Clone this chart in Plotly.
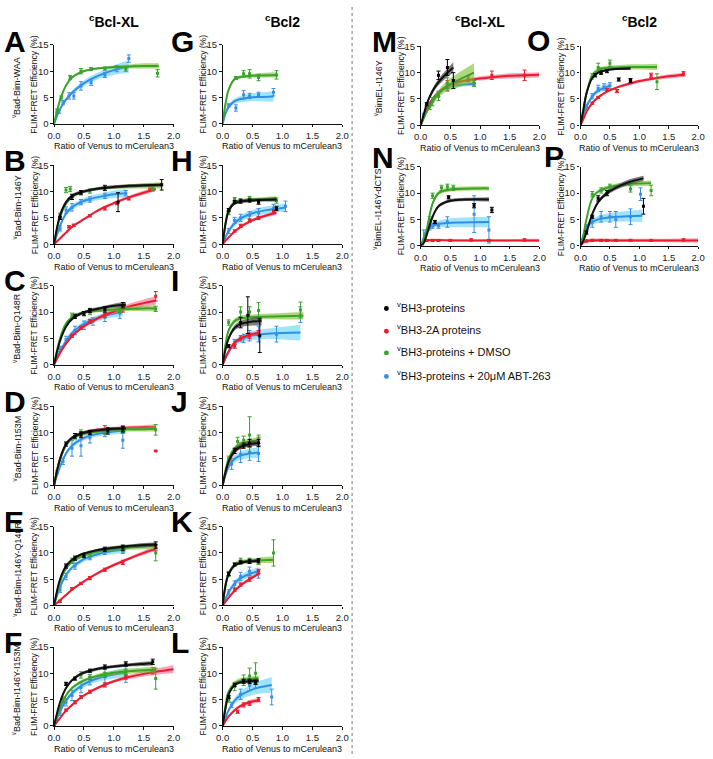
import plotly.graph_objects as go

W, H = 713, 759

# ---------------- data ----------------
# each series: fx/fy = fitted curve, fb = half-width of the confidence band,
# px/py/pe = measured points with error bars
A_green = dict(fx=[0,0.1,0.2,0.3,0.45,0.6,0.8,1.0,1.25,1.5,1.75], fy=[0,4.5,7.3,8.8,9.8,10.3,10.6,10.8,10.9,11.0,11.0], fb=[0,.2,.2,.2,.2,.2,.2,.3,.4,.5,.5],
               px=[0.05,0.12,0.27,0.45,0.62,0.85,1.2,1.73], py=[2.5,5.0,8.8,10.0,10.4,10.5,10.4,9.6], pe=[.3,.3,.4,.5,.3,.3,.4,.7])
A_blue = dict(fx=[0,0.1,0.2,0.3,0.45,0.6,0.8,1.0,1.25], fy=[0,2.8,4.6,5.9,7.3,8.4,9.4,10.2,10.9], fb=[0,.2,.3,.4,.5,.6,.7,.9,1.2],
              px=[0.08,0.15,0.25,0.33,0.45,0.62,0.85,1.05,1.25], py=[2.3,4.0,5.3,5.3,7.2,7.8,9.3,10.5,12.4], pe=[.3,.4,.6,.6,.8,.5,.5,.6,.7])

B_black = dict(fx=[0,0.1,0.2,0.3,0.45,0.6,0.8,1.0,1.25,1.5,1.8], fy=[0,5.5,8.0,9.2,9.9,10.3,10.7,10.9,11.1,11.2,11.3], fb=[0,.3,.3,.3,.3,.3,.3,.3,.3,.3,.3],
               px=[0.1,0.3,0.45,0.85,1.07,1.8], py=[5.0,9.0,9.8,10.7,8.0,11.3], pe=[.3,.5,.4,.5,1.8,1.0])
B_green = dict(fx=[0,0.1,0.2,0.3,0.45,0.6,0.8,1.0,1.25,1.5,1.8], fy=[0,5.2,7.7,9.0,9.8,10.3,10.6,10.8,11.0,11.1,11.2], fb=[0,.2,.2,.2,.2,.2,.3,.3,.4,.5,.6],
               px=[0.1,0.2,0.27,0.6,1.65], py=[5.5,10.3,10.5,10.1,10.5], pe=[.4,.5,.5,.4,.4])
B_blue = dict(fx=[0,0.1,0.2,0.3,0.45,0.6,0.8,1.0,1.2], fy=[0,3.5,5.8,7.0,8.0,8.6,9.1,9.5,9.7], fb=[0,.3,.4,.5,.5,.6,.6,.7,.8],
              px=[0.1,0.2,0.3,0.45,0.6,0.85,1.2], py=[3.0,6.5,7.0,8.0,8.5,9.2,9.7], pe=[.5,.6,.7,.5,.5,.5,.5])
B_red = dict(fx=[0,0.1,0.2,0.3,0.45,0.6,0.8,1.0,1.25,1.5,1.7], fy=[0,1.1,2.2,3.3,4.4,5.5,6.8,7.8,8.9,9.8,10.5], fb=[0,.2,.2,.2,.2,.2,.3,.3,.3,.4,.4],
             px=[0.25,0.33,0.6,0.85,1.05,1.25,1.6], py=[3.3,3.6,5.4,6.8,7.8,8.7,10.5], pe=[.2,.2,.2,.3,.3,.3,.4])

C_black = dict(fx=[0,0.1,0.2,0.3,0.45,0.6,0.8,1.0,1.2], fy=[0,4.5,7.2,8.7,9.7,10.3,10.8,11.2,11.4], fb=[0,.2,.2,.3,.3,.3,.3,.4,.5],
               px=[0.35,0.5,0.6,0.85,1.15], py=[9.2,9.7,10.3,10.5,11.3], pe=[.4,.4,.4,.5,.5])
C_red = dict(fx=[0,0.1,0.2,0.3,0.45,0.6,0.8,1.0,1.25,1.5,1.7], fy=[0,2.2,4.0,5.4,6.9,8.0,9.2,10.1,11.0,11.7,12.2], fb=[0,.2,.2,.3,.3,.3,.4,.5,.6,.7,.8],
             px=[0.3,0.45,0.6,0.85,1.15,1.7], py=[5.5,7.0,8.2,9.5,10.5,13.0], pe=[.3,.3,.4,.5,.5,.9])
C_green = dict(fx=[0,0.1,0.2,0.3,0.45,0.6,0.8,1.0,1.25,1.5,1.7], fy=[0,5.0,7.8,9.0,9.8,10.1,10.3,10.5,10.6,10.7,10.7], fb=[0,.2,.2,.3,.3,.3,.3,.4,.4,.5,.6],
               px=[0.3,0.6,1.1,1.7], py=[9.3,10.0,10.3,10.6], pe=[.5,.5,.4,.5])
C_blue = dict(fx=[0,0.1,0.2,0.3,0.45,0.6,0.8,1.0,1.15], fy=[0,2.5,4.5,6.0,7.4,8.3,9.1,9.7,10.0], fb=[0,.3,.4,.5,.5,.6,.6,.7,.8],
              px=[0.1,0.2,0.35,0.5,0.65,0.85,1.1], py=[3.0,4.8,6.5,7.5,8.2,9.0,9.8], pe=[.5,.6,.8,.8,.7,.8,1.0])

D_black = dict(fx=[0,0.1,0.2,0.3,0.45,0.6,0.8,1.0,1.2], fy=[0,5.0,7.8,9.0,9.8,10.2,10.5,10.7,10.8], fb=[0,.3,.3,.3,.3,.3,.3,.3,.3],
               px=[0.2,0.35,0.45,0.6,0.9,1.15], py=[7.8,9.3,9.6,10.0,10.3,10.6], pe=[.4,.5,.5,.4,.6,.5])
D_red = dict(fx=[0,0.1,0.2,0.3,0.45,0.6,0.8,1.0,1.25,1.5,1.7], fy=[0,5.0,7.6,8.9,9.8,10.3,10.6,10.8,10.9,11.0,11.0], fb=[0,.2,.2,.3,.3,.3,.3,.3,.4,.4,.5],
             px=[0.45,0.85,1.15,1.7], py=[9.5,10.5,10.8,6.5], pe=[.5,.8,.5,0])
D_green = dict(fx=[0,0.1,0.2,0.3,0.45,0.6,0.8,1.0,1.25,1.5,1.7], fy=[0,4.8,7.6,8.8,9.6,10.0,10.3,10.5,10.6,10.6,10.7], fb=[0,.2,.2,.3,.3,.3,.3,.3,.4,.4,.5],
               px=[0.45,0.85,1.15,1.7], py=[10.0,10.2,10.3,10.5], pe=[.5,.5,.5,1.0])
D_blue = dict(fx=[0,0.1,0.2,0.3,0.45,0.6,0.8,1.0,1.2], fy=[0,3.5,6.0,7.5,8.7,9.4,9.9,10.2,10.4], fb=[0,.3,.4,.5,.5,.5,.5,.6,.6],
              px=[0.05,0.15,0.3,0.45,0.6,0.85,1.15], py=[2.5,4.5,7.0,7.5,9.0,10.0,8.5], pe=[.3,.6,1.5,2.0,1.0,.8,1.5])

E_black = dict(fx=[0,0.1,0.2,0.3,0.45,0.6,0.8,1.0,1.25,1.5,1.7], fy=[0,5.0,7.5,8.7,9.7,10.2,10.7,11.0,11.3,11.5,11.6], fb=[0,.2,.2,.2,.2,.2,.3,.3,.3,.4,.4],
               px=[0.2,0.35,0.5,0.85,1.15,1.7], py=[7.5,9.0,9.5,10.7,11.0,11.5], pe=[.4,.4,.4,.4,.5,.6])
E_green = dict(fx=[0,0.1,0.2,0.3,0.45,0.6,0.8,1.0,1.25,1.5,1.7], fy=[0,4.5,7.0,8.3,9.3,9.9,10.4,10.7,11.0,11.2,11.3], fb=[0,.2,.2,.3,.3,.3,.3,.3,.4,.5,.6],
               px=[0.3,0.6,1.15,1.7], py=[8.5,9.8,10.7,10.0], pe=[.5,.5,.5,1.5])
E_blue = dict(fx=[0,0.1,0.2,0.3,0.45,0.6,0.8,1.0,1.2], fy=[0,3.5,5.8,7.2,8.5,9.3,10.0,10.4,10.7], fb=[0,.3,.4,.4,.5,.5,.5,.6,.7],
              px=[0.1,0.2,0.35,0.6,0.85,1.15], py=[3.0,5.5,7.5,9.2,10.2,10.5], pe=[.5,.6,.6,.5,.5,.6])
E_red = dict(fx=[0,0.1,0.2,0.3,0.45,0.6,0.8,1.0,1.25,1.5,1.7], fy=[0,1.0,2.0,3.0,4.2,5.3,6.6,7.7,8.9,10.0,10.8], fb=[0,.1,.2,.2,.2,.2,.3,.3,.3,.4,.4],
             px=[0.1,0.3,0.45,0.6,0.85,1.15,1.7], py=[0.8,3.2,4.2,5.2,6.8,8.2,11.0], pe=[.2,.2,.2,.3,.3,.4,.6])

F_black = dict(fx=[0,0.1,0.2,0.3,0.45,0.6,0.8,1.0,1.25,1.5,1.65], fy=[0,4.5,7.2,8.7,9.9,10.5,11.0,11.3,11.6,11.8,11.9], fb=[0,.2,.2,.2,.3,.3,.3,.3,.3,.4,.4],
               px=[0.2,0.35,0.6,0.85,1.2,1.65], py=[8.0,9.0,10.5,11.2,11.8,12.2], pe=[.3,.3,.3,.4,.4,.5])
F_green = dict(fx=[0,0.1,0.2,0.3,0.45,0.6,0.8,1.0,1.25,1.5,1.7], fy=[0,3.5,5.8,7.2,8.4,9.1,9.7,10.1,10.4,10.6,10.7], fb=[0,.2,.3,.3,.3,.3,.4,.4,.5,.5,.6],
               px=[0.15,0.45,0.6,0.85,1.2,1.7], py=[5.0,9.7,9.3,9.7,10.3,9.0], pe=[.5,.6,.5,.5,.5,2.0])
F_blue = dict(fx=[0,0.1,0.2,0.3,0.45,0.6,0.8,1.0,1.2], fy=[0,2.8,4.8,6.2,7.6,8.5,9.3,9.8,10.1], fb=[0,.3,.4,.5,.6,.6,.7,.8,.9],
              px=[0.1,0.2,0.3,0.45,0.6,0.85,1.2], py=[2.5,4.5,5.8,7.3,8.6,9.5,9.8], pe=[.5,.7,1.0,1.0,.8,1.5,1.5])
F_red = dict(fx=[0,0.1,0.2,0.3,0.45,0.6,0.8,1.0,1.25,1.5,1.75,2.0], fy=[0,1.5,2.9,4.0,5.4,6.5,7.6,8.5,9.3,9.9,10.4,10.8], fb=[0,.2,.2,.2,.2,.2,.3,.3,.4,.5,.6,.8],
             px=[0.2,0.35,0.45,0.6,0.85,1.2,1.65], py=[3.0,4.5,5.5,6.5,7.8,9.3,10.5], pe=[.2,.3,.3,.3,.4,.4,.6])

G_green = dict(fx=[0,0.05,0.1,0.2,0.3,0.45,0.6,0.9], fy=[0,4.0,6.5,8.5,8.9,9.1,9.2,9.3], fb=[0,.3,.3,.3,.3,.3,.4,.5],
               px=[0.22,0.35,0.45,0.6,0.9], py=[8.7,9.5,9.5,8.8,9.3], pe=[.3,.6,.8,.6,.8])
G_blue = dict(fx=[0,0.05,0.1,0.2,0.3,0.45,0.6,0.85], fy=[0,2.0,3.2,4.3,4.7,5.0,5.1,5.2], fb=[0,.3,.4,.5,.6,.7,.8,1.0],
              px=[0.1,0.22,0.35,0.45,0.6,0.85], py=[3.5,3.0,5.5,5.3,5.5,6.0], pe=[.3,.6,.8,.5,.5,.7])

H_black = dict(fx=[0,0.05,0.1,0.2,0.3,0.45,0.6,0.9], fy=[0,4.0,6.3,7.8,8.1,8.3,8.4,8.5], fb=[0,.3,.3,.3,.3,.3,.3,.4],
               px=[0.1,0.2,0.3,0.45,0.6,0.9], py=[6.5,8.0,8.2,8.3,8.0,6.8], pe=[.3,.3,.4,.3,.4,.4])
H_green = dict(fx=[0,0.05,0.1,0.2,0.3,0.45,0.6,0.9], fy=[0,4.2,6.5,8.0,8.3,8.5,8.6,8.7], fb=[0,.3,.3,.3,.3,.3,.3,.4],
               px=[0.1,0.2,0.45,0.9], py=[6.0,8.5,8.7,8.3], pe=[.4,.4,.4,.5])
H_blue = dict(fx=[0,0.1,0.2,0.3,0.45,0.6,0.8,1.05], fy=[0,2.5,4.0,4.9,5.7,6.2,6.6,7.0], fb=[0,.4,.5,.6,.6,.7,.7,.8],
              px=[0.1,0.2,0.3,0.45,0.6,0.85,1.05], py=[2.5,4.5,5.0,5.5,6.0,6.8,7.2], pe=[.5,.6,.7,.7,.8,.8,1.0])
H_red = dict(fx=[0,0.1,0.2,0.3,0.45,0.6,0.8,0.9], fy=[0,1.3,2.4,3.3,4.3,5.0,5.7,6.0], fb=[0,.2,.2,.3,.3,.3,.4,.4],
             px=[0.2,0.3,0.45,0.6,0.85], py=[2.5,3.5,4.5,5.0,6.2], pe=[.2,.3,.3,.3,.4])

I_green = dict(fx=[0,0.05,0.1,0.2,0.3,0.45,0.6,1.0,1.35], fy=[0,4.0,6.5,8.3,8.8,9.0,9.1,9.2,9.3], fb=[0,.4,.4,.5,.5,.5,.5,.6,.7],
               px=[0.1,0.3,0.45,0.6,1.3], py=[8.0,10.0,10.0,10.3,10.4], pe=[.5,1.0,1.0,1.5,1.5])
I_black = dict(fx=[0,0.05,0.1,0.2,0.3,0.45,0.65], fy=[0,3.0,5.0,7.0,7.7,8.1,8.3], fb=[0,.3,.4,.5,.6,.7,.8],
               px=[0.1,0.3,0.42,0.62], py=[3.5,8.0,9.4,5.5], pe=[.3,1.0,3.5,3.2])
I_blue = dict(fx=[0,0.1,0.2,0.3,0.45,0.6,0.8,1.3], fy=[0,2.5,4.0,4.8,5.4,5.7,5.9,6.1], fb=[0,.4,.6,.7,.8,.9,1.0,1.5],
              px=[0.2,0.35,0.45,0.6,0.9,1.3], py=[4.3,5.0,5.5,5.8,5.8,9.5], pe=[.5,.8,1.0,1.5,1.5,1.5])
I_red = dict(fx=[0,0.1,0.2,0.3,0.45,0.6], fy=[0,2.5,4.2,5.0,5.7,6.0], fb=[0,.2,.3,.3,.3,.4],
             px=[0.2,0.3,0.45,0.6], py=[3.5,5.0,5.5,6.0], pe=[.4,.5,.5,.5])

J_black = dict(fx=[0,0.1,0.2,0.3,0.45,0.6], fy=[0,4.5,6.5,7.3,7.8,8.0], fb=[0,.3,.4,.4,.5,.5],
               px=[0.2,0.35,0.45,0.6], py=[6.5,7.5,8.0,8.0], pe=[.5,.5,.7,.7])
J_red = dict(fx=[0,0.1,0.2,0.3,0.45,0.6], fy=[0,4.3,6.3,7.2,7.8,8.2], fb=[0,.3,.4,.4,.5,.5],
             px=[0.3,0.45,0.6], py=[7.5,7.8,8.5], pe=[.5,.6,.6])
J_green = dict(fx=[0,0.1,0.2,0.3,0.45,0.6], fy=[0,5.0,7.0,7.8,8.3,8.5], fb=[0,.3,.4,.5,.5,.6],
               px=[0.1,0.25,0.35,0.45,0.6], py=[5.0,8.3,8.5,9.5,8.5], pe=[.5,.8,.8,3.5,1.0])
J_blue = dict(fx=[0,0.1,0.2,0.3,0.45,0.6], fy=[0,3.5,5.0,5.6,6.0,6.2], fb=[0,.5,.7,.8,.9,1.0],
              px=[0.15,0.3,0.45,0.6], py=[4.0,5.8,6.2,6.0], pe=[1.0,1.5,1.5,1.5])

K_black = dict(fx=[0,0.05,0.1,0.2,0.3,0.45,0.6], fy=[0,4.0,6.0,7.6,8.1,8.4,8.5], fb=[0,.3,.3,.3,.3,.3,.4],
               px=[0.1,0.2,0.3,0.45,0.6], py=[6.0,7.8,8.2,8.4,8.5], pe=[.3,.3,.3,.4,.4])
K_green = dict(fx=[0,0.05,0.1,0.2,0.3,0.45,0.6,0.85], fy=[0,4.0,6.2,7.8,8.3,8.5,8.6,8.7], fb=[0,.3,.3,.4,.4,.4,.5,.6],
               px=[0.1,0.3,0.45,0.6,0.85], py=[6.0,8.5,8.5,8.3,10.0], pe=[.5,.5,.5,.5,2.5])
K_blue = dict(fx=[0,0.1,0.2,0.3,0.45,0.6], fy=[0,2.5,4.2,5.2,6.0,6.5], fb=[0,.4,.5,.6,.7,.8],
              px=[0.1,0.2,0.3,0.45,0.6], py=[2.5,4.0,5.5,6.5,6.0], pe=[.5,.7,.8,.8,.8])
K_red = dict(fx=[0,0.1,0.2,0.3,0.45,0.6], fy=[0,1.5,2.8,3.8,5.0,6.0], fb=[0,.2,.3,.3,.3,.4],
             px=[0.2,0.3,0.45,0.6], py=[3.0,4.0,5.0,6.5], pe=[.3,.3,.4,.4])

L_black = dict(fx=[0,0.05,0.1,0.2,0.3,0.45,0.6], fy=[0,3.5,6.0,7.8,8.3,8.5,8.6], fb=[0,.3,.3,.3,.3,.4,.4],
               px=[0.1,0.2,0.35,0.45,0.55], py=[5.5,7.8,8.5,8.5,8.3], pe=[.3,.3,.4,.4,.4])
L_green = dict(fx=[0,0.05,0.1,0.2,0.3,0.45,0.6], fy=[0,4.0,6.5,8.0,8.6,8.9,9.0], fb=[0,.4,.4,.5,.5,.5,.6],
               px=[0.1,0.2,0.35,0.45,0.55], py=[5.0,7.5,8.7,9.5,10.0], pe=[.5,.8,1.0,1.5,2.0])
L_blue = dict(fx=[0,0.1,0.2,0.3,0.45,0.6,0.82], fy=[0,3.0,4.8,5.8,6.7,7.3,7.8], fb=[0,.4,.6,.8,1.0,1.2,1.5],
              px=[0.15,0.3,0.45,0.55,0.82], py=[4.0,6.0,7.7,8.2,5.5], pe=[.5,1.0,1.0,1.0,1.5])
L_red = dict(fx=[0,0.1,0.2,0.3,0.45,0.6], fy=[0,1.8,3.0,3.8,4.5,4.9], fb=[0,.2,.3,.3,.4,.4],
             px=[0.25,0.35,0.45,0.6], py=[2.7,4.0,4.3,5.0], pe=[.3,.4,.4,.4])

M_black = dict(fx=[0,0.05,0.1,0.2,0.3,0.45,0.55], fy=[0,2.0,4.0,6.5,8.2,10.0,11.0], fb=[0,.2,.3,.5,.6,.8,1.0],
               px=[0.1,0.3,0.45,0.55], py=[4.0,9.5,11.0,8.5], pe=[.3,.8,1.5,1.5])
M_red = dict(fx=[0,0.05,0.1,0.2,0.3,0.45,0.6,0.8,1.0,1.25,1.5,1.75,2.0], fy=[0,1.5,3.0,5.0,6.3,7.5,8.1,8.6,8.9,9.2,9.4,9.5,9.6],
             fb=[0,.2,.3,.3,.3,.3,.3,.3,.4,.4,.5,.5,.5],
             px=[0.45,0.55,0.8,1.2,1.75], py=[7.5,8.2,8.8,9.5,9.5], pe=[1.0,.5,.5,.8,1.0])
M_green = dict(fx=[0,0.1,0.2,0.3,0.45,0.6,0.9], fy=[0,2.5,4.5,6.0,7.5,8.4,10.0], fb=[0,.3,.5,.7,1.0,1.3,1.8],
               px=[0.15,0.2,0.3,0.45,0.9], py=[3.5,4.5,5.5,8.0,8.0], pe=[.5,.8,.8,1.0,.6])
M_blue = dict(fx=[0,0.05,0.1,0.2,0.3,0.45,0.6,0.9], fy=[0,1.5,3.0,5.0,6.2,7.2,7.6,7.9], fb=[0,.2,.3,.3,.3,.3,.4,.4],
              px=[0.05,0.15,0.3,0.45,0.9], py=[2.0,4.0,6.0,7.2,8.0], pe=[.3,.4,.5,.5,.5])

N_green = dict(fx=[0,0.05,0.1,0.2,0.3,0.45,0.6,1.0,1.15], fy=[0,1.0,3.0,8.0,10.0,10.6,10.8,10.9,10.9], fb=[0,.3,.3,.4,.4,.4,.4,.4,.4],
               px=[0.15,0.2,0.35,0.45,0.55], py=[5.0,9.5,11.0,11.2,11.0], pe=[.5,.5,.5,.5,.5])
N_black = dict(fx=[0,0.05,0.1,0.2,0.3,0.45,0.6,0.8,1.15], fy=[0,0.5,2.0,5.5,7.5,8.4,8.7,8.8,8.8], fb=[0,.2,.2,.3,.3,.3,.3,.3,.4],
               px=[0.24,0.47,0.9,1.2], py=[4.5,9.2,7.6,6.8], pe=[.3,.3,.4,.5])
N_blue = dict(fx=[0,0.05,0.1,0.2,0.3,0.45,0.6,1.15], fy=[0,1.5,3.0,3.8,4.1,4.3,4.4,4.5], fb=[0,.3,.4,.5,.6,.8,.9,1.0],
              px=[0.05,0.15,0.2,0.3,0.45,0.9,1.15], py=[1.0,3.5,3.8,3.8,4.5,6.0,3.0], pe=[2.0,.5,.5,.5,1.0,3.5,2.5])
N_red = dict(fx=[0,0.05,0.1,0.6,1.2,2.0], fy=[0,0.8,1.0,1.0,1.0,1.0], fb=[0,.2,.2,.2,.2,.3],
             px=[0.1,0.2,0.3,0.5,0.85,1.15,1.75], py=[1.0,1.0,1.0,1.0,1.1,1.0,1.1], pe=[.2,.2,.2,.2,.2,.2,.2])

O_green = dict(fx=[0,0.05,0.1,0.2,0.3,0.45,0.6,0.85,1.05,1.3], fy=[0,3.0,6.0,9.5,10.5,10.9,11.0,11.1,11.1,11.1], fb=[0,.3,.3,.4,.4,.4,.4,.5,.5,.6],
               px=[0.2,0.3,0.35,0.5,1.3], py=[9.3,11.0,10.3,11.8,8.3], pe=[.5,.8,.6,.6,1.5])
O_black = dict(fx=[0,0.05,0.1,0.2,0.3,0.45,0.6,0.85], fy=[0,3.0,6.0,9.0,10.0,10.5,10.7,10.8], fb=[0,.2,.2,.2,.2,.2,.2,.3],
               px=[0.25,0.35,0.45,0.65,0.85], py=[9.5,10.0,10.3,8.7,8.5], pe=[.3,.3,.3,.3,.4])
O_blue = dict(fx=[0,0.05,0.1,0.2,0.3,0.45,0.5], fy=[0,2.0,3.5,5.5,6.6,7.3,7.5], fb=[0,.3,.4,.5,.5,.6,.6],
              px=[0.1,0.2,0.3,0.4,0.5], py=[3.5,5.5,7.0,7.3,7.5], pe=[.5,.5,.6,.6,.6])
O_red = dict(fx=[0,0.05,0.1,0.2,0.3,0.45,0.6,0.8,1.0,1.25,1.5,1.75], fy=[0,1.2,2.5,4.2,5.3,6.4,7.1,7.8,8.4,8.9,9.3,9.6],
             fb=[0,.2,.2,.2,.2,.2,.2,.3,.3,.3,.4,.4],
             px=[0.2,0.3,0.45,0.62,0.85,1.2,1.75], py=[4.2,5.3,6.7,6.5,8.3,9.5,9.8], pe=[.2,.2,.3,.3,.3,.4,.4])

P_black = dict(fx=[0,0.05,0.1,0.2,0.3,0.45,0.6,0.8,1.07], fy=[0,1.0,2.5,6.0,8.3,10.0,11.0,12.0,12.8], fb=[0,.2,.2,.3,.3,.4,.4,.5,.5],
               px=[0.1,0.2,0.3,0.45,1.07], py=[2.5,5.5,9.0,10.0,7.5], pe=[.3,.3,.5,.5,1.5])
P_green = dict(fx=[0,0.05,0.1,0.2,0.3,0.45,0.6,0.8,1.2], fy=[0,2.0,5.0,9.0,10.3,11.0,11.4,11.7,11.9], fb=[0,.3,.3,.3,.3,.4,.4,.4,.5],
               px=[0.2,0.35,0.5,0.85,1.2], py=[9.8,10.5,11.2,10.8,10.5], pe=[.5,.5,.5,.6,1.0])
P_blue = dict(fx=[0,0.05,0.1,0.2,0.3,0.45,0.6,0.8,1.05], fy=[0,2.0,3.5,4.5,5.0,5.3,5.5,5.6,5.7], fb=[0,.3,.5,.6,.7,.8,.9,1.0,1.2],
              px=[0.1,0.2,0.35,0.5,0.6,0.85,1.02], py=[3.5,4.5,5.5,5.5,5.0,5.5,9.8], pe=[.5,1.0,1.0,1.0,1.5,1.5,1.2])
P_red = dict(fx=[0,0.05,0.1,0.6,1.2,2.0], fy=[0,0.6,0.9,1.0,1.0,1.0], fb=[0,.2,.3,.3,.3,.4],
             px=[0.1,0.2,0.35,0.45,0.6,0.85,1.2,1.75], py=[0.9,1.0,1.0,1.0,1.0,1.0,1.0,1.1], pe=[.2,.2,.2,.2,.2,.2,.2,.2])

X_TICKS = [0, 0.5, 1.0, 1.5, 2.0]
X_TICKTEXT = ["0.0", "0.5", "1.0", "1.5", "2.0"]
Y_TICKS = [0, 5, 10, 15]

LEGEND_LABELS = ["<sup>v</sup>BH3-proteins", "<sup>v</sup>BH3-2A proteins",
                 "<sup>v</sup>BH3-proteins + DMSO", "<sup>v</sup>BH3-proteins + 20μM ABT-263"]
COLUMN_TITLES = ["<sup>c</sup>Bcl-XL", "<sup>c</sup>Bcl2", "<sup>c</sup>Bcl-XL", "<sup>c</sup>Bcl2"]

# ---------------- styling ----------------
STY = {
    "black": dict(line="#111111", band="rgba(70,70,70,0.70)", pt="#000000"),
    "red":   dict(line="#ec1c2e", band="rgba(244,90,130,0.55)", pt="#ec1c2e"),
    "green": dict(line="#3ba32b", band="rgba(120,190,40,0.60)", pt="#37a32a"),
    "blue":  dict(line="#2f8fe6", band="rgba(80,205,245,0.55)", pt="#3a8ee6"),
}
ORDER = ["blue", "red", "green", "black"]
FONT = "Arial, Liberation Sans, Helvetica, sans-serif"

COLX = [(48, 170), (220, 342), (422, 543), (585, 705)]
def row_y(r):
    top = 39.5 + 122.2 * r
    return top, top + 80

# (letter x, letter centre offset above plot top)
LETTER_POS = {"A": (-5, 3), "B": (-5, 5), "C": (-5, 5), "D": (-5, 5), "E": (-5, 5), "F": (-5, 5),
              "G": (165, 3), "H": (165, 5), "I": (165, 5), "J": (165, 5), "K": (165, 5), "L": (165, 5),
              "M": (370, 5), "N": (370, 9), "O": (528, 6), "P": (546, 10)}

PANELS = [
    ("A", 0, 0, "<sup>v</sup>Bad-Bim-WAA", {"green": A_green, "blue": A_blue}),
    ("B", 0, 1, "<sup>v</sup>Bad-Bim-I146Y", {"black": B_black, "red": B_red, "green": B_green, "blue": B_blue}),
    ("C", 0, 2, "<sup>v</sup>Bad-Bim-Q148R", {"black": C_black, "red": C_red, "green": C_green, "blue": C_blue}),
    ("D", 0, 3, "<sup>v</sup>Bad-Bim-I153M", {"black": D_black, "red": D_red, "green": D_green, "blue": D_blue}),
    ("E", 0, 4, "<sup>v</sup>Bad-Bim-I146Y-Q148R", {"black": E_black, "red": E_red, "green": E_green, "blue": E_blue}),
    ("F", 0, 5, "<sup>v</sup>Bad-Bim-I146Y-I153M", {"black": F_black, "red": F_red, "green": F_green, "blue": F_blue}),
    ("G", 1, 0, None, {"green": G_green, "blue": G_blue}),
    ("H", 1, 1, None, {"black": H_black, "red": H_red, "green": H_green, "blue": H_blue}),
    ("I", 1, 2, None, {"black": I_black, "red": I_red, "green": I_green, "blue": I_blue}),
    ("J", 1, 3, None, {"black": J_black, "red": J_red, "green": J_green, "blue": J_blue}),
    ("K", 1, 4, None, {"black": K_black, "red": K_red, "green": K_green, "blue": K_blue}),
    ("L", 1, 5, None, {"black": L_black, "red": L_red, "green": L_green, "blue": L_blue}),
    ("M", 2, 0, "<sup>v</sup>BimEL-I146Y", {"black": M_black, "red": M_red, "green": M_green, "blue": M_blue}),
    ("N", 2, 1, "<sup>v</sup>BimEL-I146Y-dCTS", {"black": N_black, "red": N_red, "green": N_green, "blue": N_blue}),
    ("O", 3, 0, None, {"black": O_black, "red": O_red, "green": O_green, "blue": O_blue}),
    ("P", 3, 1, None, {"black": P_black, "red": P_red, "green": P_green, "blue": P_blue}),
]

fig = go.Figure()
ann = []
shapes = []

for i, (letter, col, row, construct, series) in enumerate(PANELS, start=1):
    x0, x1 = COLX[col]
    top, bot = row_y(row)
    if col >= 2:
        top += 1.5; bot += 1.5
    sfx = "" if i == 1 else str(i)
    xa, ya = "x" + sfx, "y" + sfx
    axis_common = dict(showline=True, linecolor="#111", linewidth=1.3, ticks="outside", ticklen=2.5, tickwidth=1.2,
                       tickcolor="#111", showgrid=False, zeroline=False,
                       tickfont=dict(size=9.5, color="#222", family=FONT), fixedrange=True)
    fig.layout["xaxis" + sfx] = dict(domain=[x0 / W, x1 / W], anchor=ya, range=[0, 2], tickvals=X_TICKS,
                                     ticktext=X_TICKTEXT, **axis_common)
    fig.layout["yaxis" + sfx] = dict(domain=[1 - bot / H, 1 - top / H], anchor=xa, range=[0, 15], tickvals=Y_TICKS,
                                     **axis_common)
    for name in ORDER:
        if name not in series:
            continue
        s = series[name]
        st = STY[name]
        lo = [max(0, a - b) for a, b in zip(s["fy"], s["fb"])]
        hi = [a + b for a, b in zip(s["fy"], s["fb"])]
        fig.add_trace(go.Scatter(x=s["fx"], y=lo, mode="lines", line=dict(width=0, shape="spline", color=st["band"]),
                                 xaxis=xa, yaxis=ya, showlegend=False, hoverinfo="skip"))
        fig.add_trace(go.Scatter(x=s["fx"], y=hi, mode="lines", line=dict(width=0, shape="spline", color=st["band"]),
                                 fill="tonexty", fillcolor=st["band"], xaxis=xa, yaxis=ya, showlegend=False, hoverinfo="skip"))
        fig.add_trace(go.Scatter(x=s["fx"], y=s["fy"], mode="lines", line=dict(width=2, shape="spline", color=st["line"]),
                                 xaxis=xa, yaxis=ya, showlegend=False))
        fig.add_trace(go.Scatter(x=s["px"], y=s["py"], mode="markers",
                                 marker=dict(size=3, color=st["pt"], symbol="square"),
                                 error_y=dict(type="data", array=s["pe"], thickness=1, width=2, color=st["pt"]),
                                 xaxis=xa, yaxis=ya, showlegend=False))
    # panel letter
    lx, ly = LETTER_POS[letter]
    ann.append(dict(text="<b>%s</b>" % letter, x=lx / W, y=1 - (top - ly) / H,
                    xref="paper", yref="paper", xanchor="left", yanchor="middle",
                    showarrow=False, font=dict(size=30, family=FONT, color="#000")))
    # y title
    ann.append(dict(text="FLIM-FRET Efficiency (%)", x=(x0 - 20) / W, y=1 - (top + bot) / 2 / H, xref="paper", yref="paper",
                    textangle=-90, showarrow=False, xanchor="center", yanchor="middle",
                    font=dict(size=8.5, family=FONT, color="#111")))
    # construct label
    if construct:
        off = 38 if col == 0 else 44
        ann.append(dict(text=construct, x=(x0 - off) / W, y=1 - ((top + bot) / 2 + 3) / H, xref="paper", yref="paper",
                        textangle=-90, showarrow=False, xanchor="center", yanchor="middle",
                        font=dict(size=9, family=FONT, color="#111")))
    # x title
    ann.append(dict(text="Ratio of Venus to mCerulean3", x=(x0 + x1) / 2 / W, y=1 - (bot + 23) / H, xref="paper", yref="paper",
                    showarrow=False, xanchor="center", yanchor="middle", font=dict(size=9, family=FONT, color="#111")))

# column titles
for (x0, x1), t in zip(COLX, COLUMN_TITLES):
    ann.append(dict(text="<b>%s</b>" % t, x=(x0 + x1) / 2 / W, y=1 - 15 / H, xref="paper", yref="paper",
                    showarrow=False, xanchor="center", yanchor="middle", font=dict(size=14, family=FONT, color="#000")))

# legend
LEG_Y = [307, 330, 352, 376]
for yy, name, lab in zip(LEG_Y, ["black", "red", "green", "blue"], LEGEND_LABELS):
    shapes.append(dict(type="circle", xref="paper", yref="paper",
                       x0=(387 - 2.5) / W, x1=(387 + 2.5) / W, y0=1 - (yy + 2.5) / H, y1=1 - (yy - 2.5) / H,
                       fillcolor=STY[name]["pt"], line=dict(width=0)))
    ann.append(dict(text=lab, x=396 / W, y=1 - (yy - 2) / H, xref="paper", yref="paper", showarrow=False,
                    xanchor="left", yanchor="middle", font=dict(size=11, family=FONT, color="#111")))

# dotted separator
shapes.append(dict(type="line", xref="paper", yref="paper", x0=352 / W, x1=352 / W, y0=0, y1=1,
                   line=dict(color="#777", width=1, dash="dot")))

fig.update_layout(width=W, height=H, margin=dict(l=0, r=0, t=0, b=0), plot_bgcolor="white", paper_bgcolor="white",
                  annotations=ann, shapes=shapes, showlegend=False, font=dict(family=FONT))
fig.write_html("out.html", config={"displayModeBar": False},
               post_script="document.body.style.margin='0';document.body.style.overflow='hidden';")
